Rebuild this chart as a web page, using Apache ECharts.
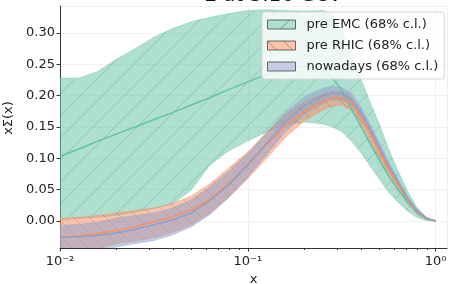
<!DOCTYPE html>
<html>
<head>
<meta charset="utf-8" />
<script src="https://cdn.jsdelivr.net/npm/echarts@6/dist/echarts.min.js"></script>
<style>
  html, body { margin: 0; padding: 0; background: #fff; }
  #chart { width: 449px; height: 284px; }
</style>
</head>
<body>
<div id="chart"></div>
<script>
// x values (log axis)
const xs = [0.01, 0.0126, 0.0158, 0.02, 0.0251, 0.0316, 0.0398, 0.0501, 0.0631, 0.0794,
  0.1, 0.126, 0.158, 0.2, 0.251, 0.282, 0.316, 0.355, 0.398, 0.447, 0.501, 0.562, 0.631,
  0.708, 0.794, 0.891, 1.0];

// pre EMC
const emcLow = [0.002, 0.004, 0.006, 0.009, 0.014, 0.02, 0.027, 0.05, 0.09, 0.112, 0.128,
  0.142, 0.153, 0.158, 0.155, 0.15, 0.143, 0.128, 0.11, 0.088, 0.067, 0.046, 0.03, 0.016,
  0.006, 0.001, 0];
const emcMid = [0.103, 0.115, 0.127, 0.139, 0.15, 0.162, 0.173, 0.185, 0.197, 0.21, 0.222,
  0.234, 0.242, 0.247, 0.242, 0.228, 0.21, 0.18, 0.152, 0.124, 0.097, 0.072, 0.05, 0.03,
  0.013, 0.003, 0];
const emcHigh = [0.228, 0.228, 0.238, 0.258, 0.275, 0.293, 0.307, 0.318, 0.325, 0.331, 0.336,
  0.337, 0.336, 0.335, 0.336, 0.33, 0.305, 0.268, 0.228, 0.19, 0.155, 0.115, 0.08, 0.048,
  0.022, 0.006, 0];

// pre RHIC
const rhicLow = [-0.058, -0.052, -0.045, -0.036, -0.032, -0.027, -0.018, -0.006, 0.013, 0.038,
  0.068, 0.1, 0.133, 0.16, 0.177, 0.183, 0.185, 0.177, 0.155, 0.128, 0.1, 0.073, 0.05, 0.029,
  0.012, 0.003, 0];
const rhicMid = [-0.026, -0.024, -0.02, -0.015, -0.009, -0.001, 0.007, 0.018, 0.035, 0.06,
  0.09, 0.122, 0.152, 0.175, 0.19, 0.196, 0.197, 0.188, 0.166, 0.14, 0.111, 0.082, 0.058,
  0.034, 0.015, 0.004, 0];
const rhicHigh = [0.004, 0.006, 0.009, 0.013, 0.017, 0.021, 0.028, 0.04, 0.06, 0.085, 0.11,
  0.142, 0.17, 0.19, 0.203, 0.207, 0.207, 0.198, 0.176, 0.15, 0.12, 0.09, 0.064, 0.038,
  0.017, 0.005, 0];

// nowadays
const nowLow = [-0.062, -0.057, -0.05, -0.041, -0.036, -0.031, -0.022, -0.009, 0.011, 0.038,
  0.07, 0.106, 0.142, 0.17, 0.188, 0.193, 0.193, 0.185, 0.165, 0.139, 0.111, 0.082, 0.057,
  0.034, 0.015, 0.004, 0];
const nowMid = [-0.026, -0.025, -0.023, -0.019, -0.013, -0.006, 0.002, 0.013, 0.033, 0.058,
  0.09, 0.124, 0.158, 0.184, 0.2, 0.204, 0.203, 0.194, 0.174, 0.147, 0.118, 0.088, 0.062,
  0.037, 0.017, 0.005, 0];
const nowHigh = [-0.007, -0.005, -0.002, 0.005, 0.009, 0.013, 0.021, 0.034, 0.055, 0.08,
  0.108, 0.14, 0.173, 0.198, 0.212, 0.215, 0.213, 0.204, 0.183, 0.155, 0.125, 0.094, 0.067,
  0.04, 0.019, 0.006, 0];

const names = ["pre EMC (68% c.l.)", "pre RHIC (68% c.l.)", "nowadays (68% c.l.)"];
const minorTicks = [0.02, 0.03, 0.04, 0.05, 0.06, 0.07, 0.08, 0.09,
  0.2, 0.3, 0.4, 0.5, 0.6, 0.7, 0.8, 0.9];
const supers = { "-2": "10⁻²", "-1": "10⁻¹", "0": "10⁰" };

const font = "DejaVu Sans";

// opaque hatch tile; transparency is set on the shape
function hatch(fill, stroke, dir, size) {
  const c = document.createElement("canvas");
  c.width = size;
  c.height = size;
  const ctx = c.getContext("2d");
  ctx.fillStyle = fill;
  ctx.fillRect(0, 0, size, size);
  if (dir) {
    ctx.strokeStyle = stroke;
    ctx.lineWidth = 1;
    ctx.beginPath();
    for (let k = -1; k <= 1; k++) {
      if (dir === "/") {
        ctx.moveTo(k * size, size);
        ctx.lineTo(k * size + size, 0);
      } else {
        ctx.moveTo(k * size, 0);
        ctx.lineTo(k * size + size, size);
      }
    }
    ctx.stroke();
  }
  return { image: c, repeat: "repeat" };
}

const bands = [
  { name: names[0], low: emcLow, mid: emcMid, high: emcHigh, color: "#66c2a5",
    fill: hatch("#66c2a5", "#2b9472", "/", 22), legendFill: hatch("#b0dfcf", "#5fae93", "/", 22) },
  { name: names[1], low: rhicLow, mid: rhicMid, high: rhicHigh, color: "#fc8d62",
    fill: hatch("#fc8d62", "#d9592b", "\\", 16), legendFill: hatch("#fdc4ae", "#c98466", "\\", 16) },
  { name: names[2], low: nowLow, mid: nowMid, high: nowHigh, color: "#8da0cb",
    fill: hatch("#8da0cb", "", "", 16), legendFill: hatch("#c4cde3", "", "", 16) },
];

let series = [];
bands.forEach((b, i) => {
  // band: one polygon, upper edge then lower edge back
  series.push({
    name: b.name,
    type: "custom",
    clip: true,
    silent: true,
    itemStyle: { color: b.color },
    encode: { x: 0, y: [1, 2] },
    data: xs.map((x, k) => [x, b.low[k], b.high[k]]),
    renderItem: (params, api) => {
      if (params.dataIndex !== 0) return null;
      let pts = [];
      xs.forEach((x, k) => pts.push(api.coord([x, b.high[k]])));
      for (let k = xs.length - 1; k >= 0; k--) pts.push(api.coord([xs[k], b.low[k]]));
      return {
        type: "polygon",
        shape: { points: pts },
        style: { fill: b.fill, stroke: b.color, lineWidth: 0.8, opacity: 0.52 },
      };
    },
  });
  series.push({
    name: "mid" + i,
    type: "line",
    symbol: "none",
    silent: true,
    lineStyle: { color: b.color, width: 1.5 },
    data: xs.map((x, k) => [x, b.mid[k]]),
  });
});

const chart = echarts.init(document.getElementById("chart"));
chart.setOption({
  animation: false,
  title: {
    text: "Σ at 3.16 GeV",
    left: 199,
    top: -19,
    textStyle: { fontFamily: font, fontSize: 20, fontWeight: "normal", color: "#111" },
  },
  legend: {
    orient: "vertical",
    left: 262,
    top: 12,
    padding: [6, 6, 6, 5],
    itemWidth: 28,
    itemHeight: 9,
    itemGap: 8,
    selectedMode: false,
    backgroundColor: "rgba(255,255,255,0.8)",
    borderColor: "#d6d6d6",
    borderWidth: 1,
    borderRadius: 3,
    textStyle: { fontFamily: font, fontSize: 13, color: "#222", padding: [0, 0, 0, 6] },
    data: bands.map((b) => ({
      name: b.name,
      icon: "rect",
      itemStyle: { color: b.legendFill, borderColor: "rgba(70,70,70,0.8)", borderWidth: 1 },
    })),
  },
  grid: { left: 60, right: 2, top: 6, bottom: 36, outerBoundsMode: "none", containLabel: false },
  xAxis: [
    {
      type: "log",
      logBase: 10,
      min: 0.01,
      max: 1.15,
      name: "x",
      nameLocation: "middle",
      nameGap: 25,
      nameTextStyle: { fontFamily: font, fontSize: 13, color: "#222" },
      axisLine: { onZero: false, lineStyle: { color: "#333", width: 1 } },
      axisTick: { length: 3.5, lineStyle: { color: "#333" } },
      axisLabel: {
        margin: 7,
        fontFamily: font,
        fontSize: 13,
        color: "#222",
        showMaxLabel: false,
        formatter: (v) => supers[String(Math.round(Math.log10(v)))] || "",
      },
      splitLine: { show: true, lineStyle: { color: "#f0f0f0", width: 1 } },
    },
    {
      type: "log",
      logBase: 10,
      min: 0.01,
      max: 1.15,
      position: "bottom",
      axisLine: { show: false, onZero: false },
      axisLabel: { show: false },
      splitLine: { show: false },
      axisTick: { length: 2, customValues: minorTicks, lineStyle: { color: "#333" } },
    },
  ],
  yAxis: {
    type: "value",
    min: -0.043,
    max: 0.343,
    splitNumber: 8,
    name: "xΣ(x)",
    nameLocation: "middle",
    nameGap: 36,
    nameTextStyle: { fontFamily: font, fontSize: 13, color: "#222", padding: [0, 0, 0, 18] },
    axisLine: { show: true, lineStyle: { color: "#333", width: 1 } },
    axisTick: { show: true, length: 3.5, lineStyle: { color: "#333" } },
    axisLabel: {
      margin: 5,
      fontFamily: font,
      fontSize: 13,
      color: "#222",
      showMinLabel: false,
      showMaxLabel: false,
      formatter: (v) => v.toFixed(2),
    },
    splitLine: { show: true, lineStyle: { color: "#f0f0f0", width: 1 } },
  },
  series: series,
});
</script>
</body>
</html>
